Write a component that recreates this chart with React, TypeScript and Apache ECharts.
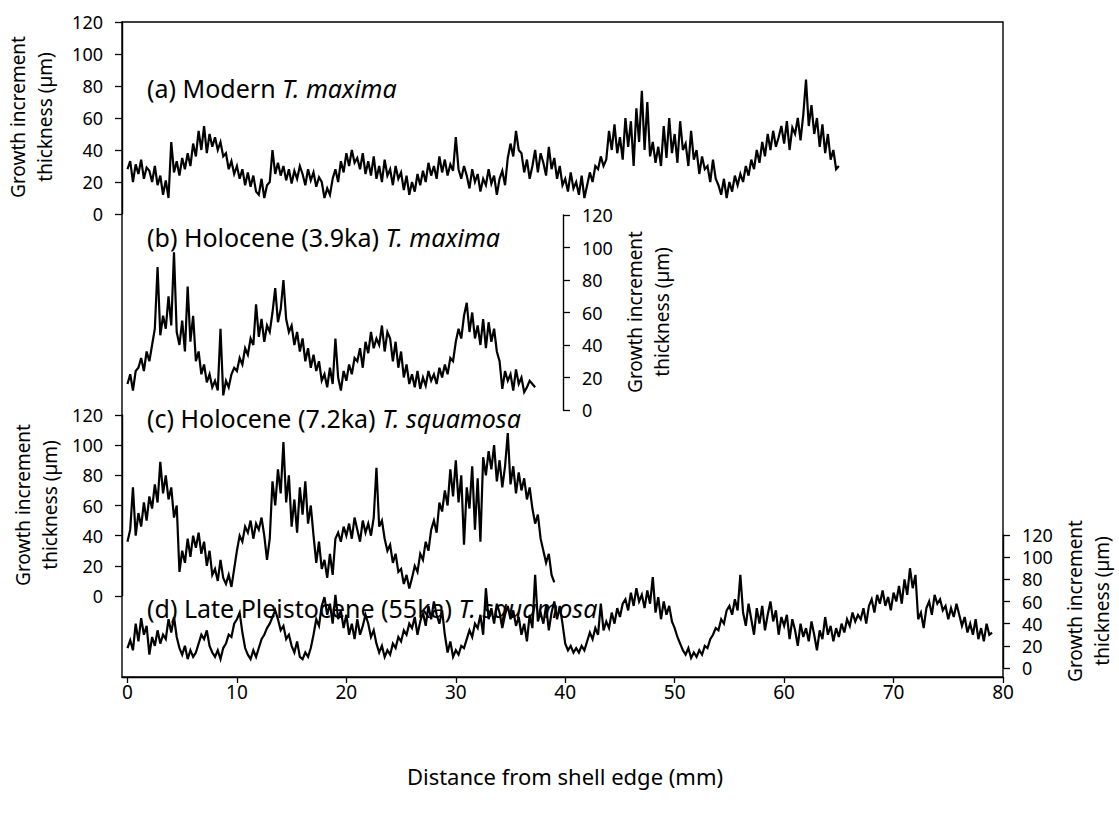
import React, { useEffect, useRef } from "react";
import * as echarts from "echarts";

// sampling step along the shell (mm)
const STEP = 0.25;

// (a) Modern T. maxima, growth increment thickness (µm), from 0 mm
const seriesA = [
  28, 33, 20, 31, 25, 34, 22, 29, 27, 20, 30, 18, 24, 12, 21, 10,
  45, 26, 33, 24, 35, 28, 38, 30, 44, 36, 52, 40, 55, 38, 50, 42,
  48, 40, 45, 36, 38, 28, 33, 25, 30, 22, 28, 18, 26, 17, 24, 14,
  12, 22, 10, 18, 20, 40, 25, 32, 24, 30, 21, 28, 19, 27, 22, 30,
  25, 18, 28, 21, 26, 17, 23, 20, 10, 16, 12, 22, 28, 20, 33, 26,
  38, 30, 40, 32, 35, 28, 38, 25, 33, 24, 36, 22, 30, 20, 34, 24,
  28, 18, 30, 22, 26, 15, 24, 12, 20, 14, 25, 18, 27, 20, 32, 24,
  30, 22, 36, 26, 34, 24, 31, 27, 48, 28, 22, 30, 24, 16, 28, 20,
  25, 14, 22, 18, 28, 19, 24, 12, 22, 27, 18, 35, 44, 36, 52, 40,
  38, 26, 34, 22, 30, 40, 26, 38, 32, 24, 42, 28, 35, 22, 30, 18,
  22, 14, 26, 16, 20, 12, 24, 10, 18, 26, 20, 30, 28, 36, 30, 34,
  52, 40, 56, 38, 48, 34, 60, 42, 58, 30, 66, 45, 77, 40, 70, 36,
  45, 32, 42, 30, 55, 35, 60, 38, 50, 32, 58, 40, 44, 30, 52, 34,
  40, 25, 36, 28, 30, 20, 34, 22, 18, 12, 22, 10, 20, 14, 24, 18,
  25, 20, 30, 24, 34, 28, 40, 32, 45, 36, 50, 40, 52, 42, 48, 55,
  44, 58, 40, 54, 50, 60, 46, 62, 84, 55, 68, 50, 60, 42, 56, 38,
  50, 34, 40, 28, 30,
];

// (b) Holocene (3.9ka) T. maxima
const seriesB = [
  16, 22, 12, 24, 26, 32, 24, 36, 30, 40, 50, 88, 46, 58, 50, 70,
  52, 97, 48, 40, 55, 36, 76, 42, 58, 30, 36, 22, 28, 17, 22, 14,
  18, 12, 50, 9, 18, 14, 22, 26, 24, 32, 28, 38, 34, 44, 40, 65,
  45, 56, 42, 52, 48, 60, 75, 54, 62, 80, 56, 48, 52, 40, 48, 36,
  44, 30, 38, 26, 34, 24, 30, 18, 22, 14, 26, 16, 44, 20, 12, 24,
  18, 28, 22, 32, 30, 38, 26, 42, 35, 48, 38, 44, 40, 52, 36, 48,
  44, 30, 42, 26, 36, 20, 28, 16, 22, 14, 24, 13, 20, 15, 24, 18,
  22, 16, 26, 20, 28, 22, 32, 30, 42, 50, 44, 58, 66, 48, 60, 44,
  52, 40, 56, 38, 54, 42, 50, 36, 30, 13, 24, 18, 22, 12, 25, 16,
  20, 11, 14, 18, 16, 14,
];

// (c) Holocene (7.2ka) T. squamosa
const seriesC = [
  36, 44, 72, 40, 55, 46, 62, 50, 66, 58, 74, 62, 89, 68, 80, 64,
  72, 52, 60, 16, 30, 22, 38, 26, 40, 32, 42, 28, 36, 20, 30, 14,
  18, 10, 24, 12, 8, 14, 6, 18, 30, 40, 36, 46, 42, 50, 38, 48,
  44, 52, 40, 24, 38, 76, 60, 84, 68, 102, 62, 80, 46, 64, 42, 72,
  54, 76, 48, 60, 40, 22, 36, 18, 24, 12, 28, 14, 38, 42, 36, 46,
  40, 48, 38, 52, 44, 36, 50, 42, 48, 40, 52, 85, 46, 50, 38, 30,
  34, 22, 28, 16, 18, 8, 14, 5, 12, 20, 16, 28, 24, 36, 30, 44,
  50, 42, 62, 56, 70, 60, 84, 66, 90, 62, 80, 34, 72, 58, 86, 44,
  78, 36, 92, 80, 96, 84, 100, 76, 90, 72, 86, 108, 74, 86, 68, 82,
  70, 78, 64, 72, 58, 48, 54, 38, 30, 22, 28, 14, 9,
];

// (d) Late Pleistocene (55ka) T. squamosa
const seriesD = [
  18, 25, 16, 40, 24, 45, 30, 38, 12, 28, 20, 34, 22, 30, 26, 44,
  32, 46, 28, 18, 12, 20, 8, 16, 10, 14, 22, 30, 26, 34, 20, 14,
  10, 16, 8, 18, 22, 30, 28, 40, 44, 50, 32, 18, 12, 8, 16, 10,
  18, 26, 30, 36, 40, 46, 52, 44, 34, 38, 26, 30, 20, 14, 24, 10,
  8, 14, 10, 18, 30, 44, 38, 56, 64, 48, 58, 40, 66, 44, 52, 36,
  48, 30, 40, 26, 44, 30, 38, 48, 40, 28, 34, 22, 14, 20, 10, 16,
  12, 22, 18, 28, 24, 34, 30, 40, 36, 46, 30, 42, 50, 38, 56, 44,
  60, 48, 40, 52, 30, 14, 24, 10, 16, 12, 20, 18, 26, 34, 28, 40,
  36, 48, 30, 72, 44, 54, 40, 58, 50, 36, 48, 56, 44, 52, 38, 46,
  30, 40, 24, 48, 36, 84, 42, 50, 40, 56, 34, 50, 60, 44, 56, 40,
  22, 16, 20, 14, 18, 14, 20, 16, 24, 32, 26, 36, 30, 58, 34, 42,
  36, 50, 40, 54, 46, 58, 62, 52, 68, 56, 72, 60, 66, 54, 70, 58,
  82, 50, 64, 44, 60, 48, 56, 42, 36, 28, 22, 16, 12, 18, 9, 14,
  10, 16, 12, 20, 18, 26, 30, 36, 34, 44, 40, 52, 56, 48, 62, 52,
  84, 50, 38, 58, 44, 30, 54, 40, 56, 34, 48, 60, 42, 52, 30, 46,
  38, 48, 26, 44, 34, 20, 40, 28, 36, 24, 42, 30, 16, 34, 26, 46,
  30, 38, 24, 36, 28, 40, 32, 44, 38, 50, 42, 48, 44, 54, 40, 56,
  62, 50, 66, 58, 70, 56, 64, 52, 68, 60, 74, 58, 80, 66, 90, 72,
  84, 44, 50, 36, 54, 60, 48, 66, 58, 62, 52, 56, 44, 54, 46, 58,
  48, 38, 46, 32, 40, 30, 44, 26, 36, 24, 40, 30, 32,
];

const panelLabels = [
  "(a) Modern {i|T. maxima}",
  "(b) Holocene (3.9ka) {i|T. maxima}",
  "(c) Holocene (7.2ka) {i|T. squamosa}",
  "(d) Late Pleistocene (55ka) {i|T. squamosa}",
];
const yTitle = "Growth increment\nthickness (µm)";
const xTitle = "Distance from shell edge (mm)";
const xTicks = [0, 10, 20, 30, 40, 50, 60, 70, 80];

const FONT = "'Noto Sans', 'Open Sans', sans-serif";

function toPairs(vals: number[]) {
  return vals.map((v, i) => [i * STEP, v]);
}

export default function App() {
  const ref = useRef<HTMLDivElement>(null);

  useEffect(() => {
    if (!ref.current) return;
    const chart = echarts.init(ref.current, undefined, { renderer: "svg" });

    const L = 122;
    const W = 881;
    const panels = [
      { top: 22, height: 192 },
      { top: 215, height: 195 },
      { top: 415, height: 181 },
      { top: 535, height: 133 },
    ];
    const grids: any[] = panels.map((p) => ({ left: L, width: W, top: p.top, height: p.height }));
    grids.push({ left: L, width: W, top: 22, height: 655, show: true, borderColor: "#000", borderWidth: 1.4, backgroundColor: "transparent" });

    const xAxes: any[] = [0, 1, 2, 3].map((i) => ({
      type: "value", gridIndex: i, min: -0.5, max: 80, show: false,
    }));
    xAxes.push({
      type: "value", gridIndex: 4, min: -0.5, max: 80,
      position: "bottom",
      axisLine: { show: true, onZero: false, lineStyle: { color: "#000", width: 1.4 } },
      axisTick: { show: true, length: 6, lineStyle: { color: "#000", width: 1.3 }, customValues: xTicks },
      axisLabel: { color: "#000", fontSize: 19, fontFamily: FONT, margin: 5, customValues: xTicks },
      splitLine: { show: false },
    });

    const yCommon = (pos: string, offset: number) => ({
      type: "value", min: 0, max: 120, interval: 20, position: pos, offset,
      axisLine: { show: true, onZero: false, lineStyle: { color: "#000", width: 1.4 } },
      axisTick: { show: true, length: 7, lineStyle: { color: "#000", width: 1.3 } },
      axisLabel: { color: "#000", fontSize: 18, fontFamily: FONT, margin: 19 },
      splitLine: { show: false },
    });
    const yAxes: any[] = [
      { ...yCommon("left", 0), gridIndex: 0 },
      { ...yCommon("right", -440), gridIndex: 1 },
      { ...yCommon("left", 0), gridIndex: 2 },
      { ...yCommon("right", 0), gridIndex: 3 },
      { type: "value", gridIndex: 4, min: 0, max: 1, show: false },
    ];

    const datasets = [seriesA, seriesB, seriesC, seriesD];
    const series: any[] = datasets.map((d, i) => ({
      type: "line",
      xAxisIndex: i,
      yAxisIndex: i,
      data: toPairs(d),
      showSymbol: false,
      symbol: "none",
      lineStyle: { color: "#000", width: 2.2, join: "miter" },
      silent: true,
    }));

    const labelPos = [88, 237, 418, 608];
    const textEls: any[] = panelLabels.map((t, i) => ({
      type: "text",
      x: 147,
      y: labelPos[i],
      style: {
        text: t,
        fill: "#000",
        fontSize: 25,
        fontFamily: FONT,
        verticalAlign: "middle",
        align: "left",
        rich: { i: { fontStyle: "italic", fontSize: 25, fontFamily: FONT, fill: "#000" } },
      },
    }));
    const titlePos = [
      [31, 117],
      [648, 312],
      [36, 505],
      [1088, 601],
    ];
    titlePos.forEach(([x, y]) => {
      textEls.push({
        type: "text",
        x,
        y,
        rotation: Math.PI / 2,
        style: {
          text: yTitle,
          fill: "#000",
          fontSize: 19,
          fontFamily: FONT,
          align: "center",
          verticalAlign: "middle",
          lineHeight: 27,
        },
      });
    });
    textEls.push({
      type: "text",
      x: 565,
      y: 776,
      style: { text: xTitle, fill: "#000", fontSize: 22, fontFamily: FONT, align: "center", verticalAlign: "middle" },
    });

    chart.setOption({
      animation: false,
      backgroundColor: "#fff",
      grid: grids,
      xAxis: xAxes,
      yAxis: yAxes,
      series,
      graphic: textEls,
    });

    return () => chart.dispose();
  }, []);

  return (
    <div
      ref={ref}
      style={{ position: "fixed", left: 0, top: 0, width: 1119, height: 817 }}
    />
  );
}
